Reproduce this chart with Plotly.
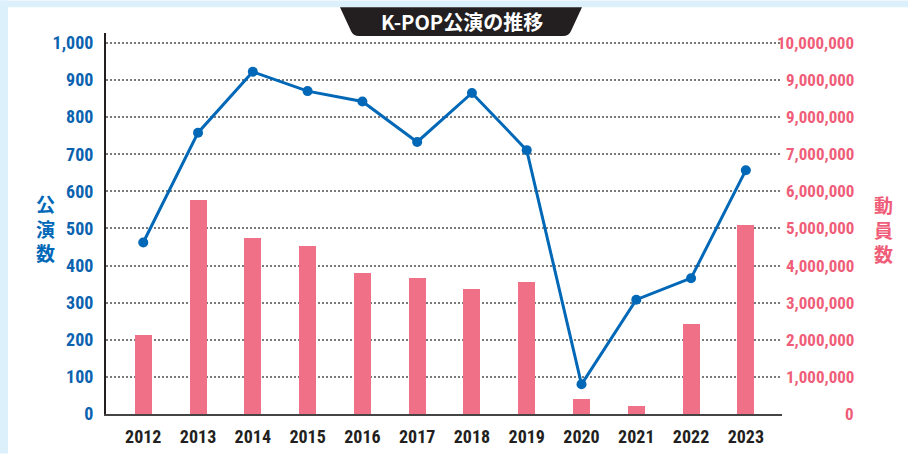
import plotly.graph_objects as go

years = ["2012", "2013", "2014", "2015", "2016", "2017", "2018", "2019", "2020", "2021", "2022", "2023"]
performances = [462, 758, 922, 870, 842, 733, 865, 711, 80, 308, 366, 657]
attendance = [2130000, 5760000, 4750000, 4520000, 3800000, 3670000, 3380000, 3560000, 400000, 210000, 2420000, 5100000]

left_tickvals = [0, 100, 200, 300, 400, 500, 600, 700, 800, 900, 1000]
left_ticktext = ["0", "100", "200", "300", "400", "500", "600", "700", "800", "900", "1,000"]
right_tickvals = [0, 1000000, 2000000, 3000000, 4000000, 5000000, 6000000, 7000000, 8000000, 9000000, 10000000]
right_ticktext = ["0", "1,000,000", "2,000,000", "3,000,000", "4,000,000", "5,000,000",
                  "6,000,000", "7,000,000", "9,000,000", "9,000,000", "10,000,000"]

title_text = "K-POP公演の推移"
left_title = "公<br>演<br>数"
right_title = "動<br>員<br>数"

W, H = 908, 459
L, R, T, B = 106, 782, 33, 419  # plot area in px

def px(x):
    return (x - L) / (R - L)

def py(y):
    return (B - y) / (B - T)

BLUE = "#0068b7"
BLUE_TXT = "#0b63b0"
PINK = "#f07087"
PINK_TXT = "#ef5d79"
NARROW = "Liberation Sans Narrow, Roboto Condensed, Arial Narrow, sans-serif"
CJK = "Noto Sans CJK JP, Noto Sans, sans-serif"

top_left = 1000 * (B - T) / (419 - 43)
top_right = top_left * 10000

fig = go.Figure()
fig.add_trace(go.Bar(
    x=years, y=attendance, yaxis="y", marker=dict(color=PINK, line=dict(width=0)),
    width=0.31, name="動員数", hoverinfo="x+y"))
fig.add_trace(go.Scatter(
    x=years, y=performances, yaxis="y2", mode="lines+markers",
    line=dict(color=BLUE, width=3), marker=dict(color=BLUE, size=10), name="公演数"))

annotations = []
for v, t in zip(right_tickvals, right_ticktext):
    annotations.append(dict(x=px(856), y=v, xref="paper", yref="y", text=t, showarrow=False,
                            xanchor="right", yanchor="middle",
                            font=dict(family=NARROW, size=17, color=PINK_TXT, weight="bold")))
annotations.append(dict(x=px(45), y=py(231), xref="paper", yref="paper", text=left_title,
                        showarrow=False, xanchor="center", yanchor="middle",
                        font=dict(family=CJK, size=19, color=BLUE, weight="bold")))
annotations.append(dict(x=px(883), y=py(232), xref="paper", yref="paper", text=right_title,
                        showarrow=False, xanchor="center", yanchor="middle",
                        font=dict(family=CJK, size=19, color=PINK_TXT, weight="bold")))
annotations.append(dict(x=px(462), y=py(21.5), xref="paper", yref="paper", text=title_text,
                        showarrow=False, xanchor="center", yanchor="middle",
                        font=dict(family=CJK, size=20, color="white", weight="bold")))

def P(x, y):
    return f"{px(x):.5f},{py(y):.5f}"

trap = (f"M {P(340,7)} L {P(582,7)} L {P(571,31)} Q {P(569,36)} {P(563,36)} "
        f"L {P(359,36)} Q {P(353,36)} {P(351,31)} Z")

shapes = [
    dict(type="rect", xref="paper", yref="paper", x0=px(0), x1=px(W), y0=py(0), y1=py(7),
         fillcolor="#dcf0fb", line=dict(width=0), layer="below"),
    dict(type="rect", xref="paper", yref="paper", x0=px(0), x1=px(8), y0=py(0), y1=py(H),
         fillcolor="#dcf0fb", line=dict(width=0), layer="below"),
    dict(type="path", xref="paper", yref="paper", path=trap, fillcolor="#231f20",
         line=dict(width=0), layer="above"),
]

fig.update_layout(
    width=W, height=H,
    margin=dict(l=L, r=W - R, t=T, b=H - B),
    paper_bgcolor="white", plot_bgcolor="white",
    showlegend=False, bargap=0,
    xaxis=dict(type="category", range=[-0.68, 11.66], showgrid=False,
               showline=True, linecolor="#444444", linewidth=2,
               ticks="outside", ticklen=5, tickcolor="rgba(0,0,0,0)",
               tickfont=dict(family=NARROW, size=18, color="#231f20", weight="bold"),
               fixedrange=True),
    yaxis=dict(range=[0, top_right], side="right", tickvals=right_tickvals,
               showticklabels=False, showgrid=True, gridcolor="#7a7a7a", gridwidth=1.6,
               griddash="2px,2px", zeroline=False, showline=False, ticks=""),
    yaxis2=dict(range=[0, top_left], overlaying="y", side="left", tickvals=left_tickvals,
                ticktext=left_ticktext, showgrid=False, zeroline=False,
                showline=True, linecolor="#231f20", linewidth=2,
                ticks="outside", ticklen=7, tickcolor="rgba(0,0,0,0)",
                tickfont=dict(family=NARROW, size=18, color=BLUE_TXT, weight="bold")),
    annotations=annotations,
    shapes=shapes,
)

fig.write_html("out.html", config={"displayModeBar": False},
               post_script="document.body.style.margin='0';document.body.style.overflow='hidden';")
